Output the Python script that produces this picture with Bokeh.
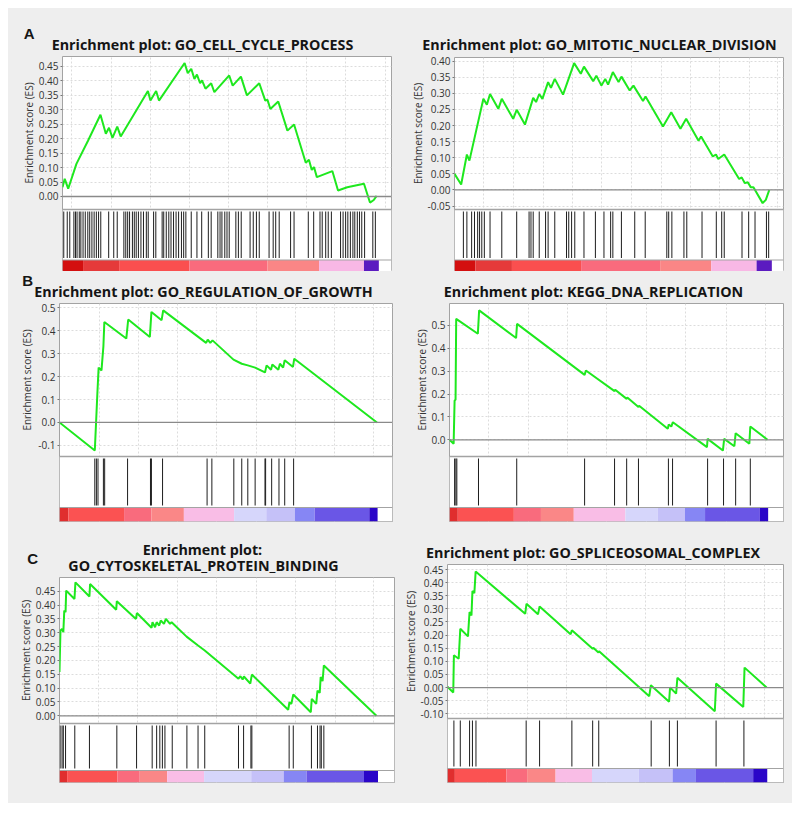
import math
from bokeh.plotting import figure
from bokeh.layouts import column, row
from bokeh.models import Range1d, FixedTicker, Grid, Span, PrintfTickFormatter, Spacer
from bokeh.core.properties import value
from bokeh.embed import file_html
from bokeh.resources import INLINE

# ======================= DATA (x = fraction of the ranked gene list) =======================
# --- A left: GO_CELL_CYCLE_PROCESS
cc_title = ["Enrichment plot: GO_CELL_CYCLE_PROCESS"]
cc_es_x = [0.000, 0.007, 0.018, 0.044, 0.081, 0.120, 0.137, 0.147, 0.158, 0.173, 0.184, 0.270, 0.278, 0.296,
           0.305, 0.386, 0.396, 0.407, 0.417, 0.425, 0.435, 0.441, 0.452, 0.470, 0.480, 0.527, 0.538, 0.564,
           0.583, 0.622, 0.641, 0.648, 0.657, 0.682, 0.711, 0.732, 0.769, 0.779, 0.788, 0.795, 0.804, 0.853,
           0.871, 0.900, 0.953, 0.972, 0.984, 0.993]
cc_es_y = [0.032, 0.061, 0.027, 0.113, 0.194, 0.283, 0.217, 0.238, 0.203, 0.242, 0.208, 0.365, 0.332, 0.365,
           0.332, 0.462, 0.427, 0.442, 0.407, 0.422, 0.392, 0.402, 0.373, 0.392, 0.361, 0.419, 0.384, 0.415,
           0.350, 0.392, 0.332, 0.335, 0.303, 0.329, 0.228, 0.249, 0.117, 0.127, 0.092, 0.102, 0.067, 0.088,
           0.021, 0.032, 0.044, -0.021, -0.012, 0.002]
cc_hits = [0.004, 0.015, 0.023, 0.036, 0.041, 0.046, 0.053, 0.058, 0.065, 0.072, 0.080, 0.086, 0.093, 0.100,
           0.107, 0.114, 0.121, 0.146, 0.162, 0.173, 0.194, 0.200, 0.206, 0.212, 0.221, 0.227, 0.233, 0.240,
           0.248, 0.256, 0.265, 0.271, 0.288, 0.295, 0.315, 0.320, 0.328, 0.336, 0.343, 0.351, 0.359, 0.367,
           0.376, 0.383, 0.390, 0.407, 0.425, 0.440, 0.461, 0.470, 0.491, 0.498, 0.504, 0.513, 0.520, 0.527,
           0.548, 0.556, 0.565, 0.593, 0.603, 0.613, 0.622, 0.653, 0.666, 0.674, 0.685, 0.721, 0.732, 0.777,
           0.794, 0.814, 0.821, 0.832, 0.840, 0.850, 0.879, 0.887, 0.895, 0.902, 0.910, 0.918, 0.924, 0.932,
           0.939, 0.946, 0.955, 0.981, 0.989]
cc_yticks = [0.00, 0.05, 0.10, 0.15, 0.20, 0.25, 0.30, 0.35, 0.40, 0.45]
cc_bar_edges = [0.0, 0.065, 0.179, 0.401, 0.648, 0.811, 0.953, 1.0]

# --- A right: GO_MITOTIC_NUCLEAR_DIVISION
mnd_title = ["Enrichment plot: GO_MITOTIC_NUCLEAR_DIVISION"]
mnd_es_x = [0.000, 0.021, 0.039, 0.047, 0.091, 0.102, 0.112, 0.138, 0.149, 0.185, 0.196, 0.222, 0.248, 0.257,
            0.267, 0.277, 0.295, 0.304, 0.316, 0.342, 0.377, 0.398, 0.408, 0.437, 0.447, 0.463, 0.475, 0.484,
            0.499, 0.517, 0.526, 0.552, 0.564, 0.594, 0.602, 0.657, 0.683, 0.712, 0.730, 0.769, 0.777, 0.814,
            0.824, 0.831, 0.850, 0.897, 0.905, 0.915, 0.924, 0.934, 0.942, 0.971, 0.981, 0.992]
mnd_es_y = [0.050, 0.017, 0.110, 0.091, 0.283, 0.265, 0.298, 0.252, 0.283, 0.221, 0.249, 0.203, 0.286, 0.273,
            0.298, 0.283, 0.335, 0.317, 0.345, 0.296, 0.394, 0.361, 0.383, 0.338, 0.355, 0.324, 0.345, 0.327,
            0.366, 0.335, 0.352, 0.309, 0.324, 0.276, 0.290, 0.197, 0.241, 0.190, 0.221, 0.153, 0.166, 0.104,
            0.110, 0.096, 0.110, 0.034, 0.039, 0.021, 0.024, 0.008, 0.008, -0.041, -0.031, 0.000]
mnd_hits = [0.028, 0.039, 0.054, 0.063, 0.073, 0.079, 0.086, 0.094, 0.112, 0.149, 0.196, 0.235, 0.241, 0.248,
            0.267, 0.287, 0.295, 0.316, 0.353, 0.360, 0.369, 0.379, 0.408, 0.444, 0.471, 0.492, 0.499, 0.526,
            0.568, 0.601, 0.669, 0.675, 0.685, 0.723, 0.732, 0.780, 0.825, 0.842, 0.850, 0.906, 0.927, 0.947,
            0.983, 0.990]
mnd_yticks = [-0.05, 0.00, 0.05, 0.10, 0.15, 0.20, 0.25, 0.30, 0.35, 0.40]
mnd_bar_edges = [0.0, 0.066, 0.181, 0.399, 0.648, 0.809, 0.952, 1.0]

# --- B left: GO_REGULATION_OF_GROWTH
rog_title = ["Enrichment plot: GO_REGULATION_OF_GROWTH"]
rog_es_x = [0.000, 0.111, 0.115, 0.119, 0.123, 0.132, 0.138, 0.141, 0.210, 0.216, 0.284, 0.289, 0.321, 0.326,
            0.461, 0.466, 0.474, 0.481, 0.547, 0.573, 0.592, 0.615, 0.646, 0.651, 0.665, 0.669, 0.688, 0.693,
            0.703, 0.708, 0.734, 0.738, 0.998]
rog_es_y = [0.000, -0.122, 0.001, 0.125, 0.239, 0.227, 0.332, 0.438, 0.366, 0.449, 0.373, 0.482, 0.446, 0.489,
            0.347, 0.361, 0.347, 0.358, 0.274, 0.256, 0.249, 0.239, 0.218, 0.249, 0.230, 0.253, 0.230, 0.256,
            0.239, 0.271, 0.242, 0.278, 0.000]
rog_hits = [0.111, 0.116, 0.121, 0.138, 0.142, 0.214, 0.286, 0.289, 0.324, 0.464, 0.479, 0.548, 0.573, 0.592,
            0.615, 0.646, 0.648, 0.667, 0.690, 0.708, 0.736]
rog_yticks = [-0.1, 0.0, 0.1, 0.2, 0.3, 0.4, 0.5]
rog_bar_edges = [0.0, 0.028, 0.203, 0.289, 0.391, 0.549, 0.650, 0.740, 0.802, 0.974, 1.0]

# --- B right: KEGG_DNA_REPLICATION
dna_title = ["Enrichment plot: KEGG_DNA_REPLICATION"]
dna_es_x = [0.000, 0.013, 0.016, 0.019, 0.021, 0.089, 0.093, 0.209, 0.212, 0.424, 0.428, 0.518, 0.520, 0.556,
            0.558, 0.593, 0.595, 0.685, 0.688, 0.696, 0.701, 0.808, 0.810, 0.858, 0.862, 0.894, 0.898, 0.941,
            0.944, 0.998]
dna_es_y = [0.000, -0.017, 0.172, 0.175, 0.529, 0.464, 0.566, 0.445, 0.507, 0.284, 0.303, 0.213, 0.219, 0.179,
            0.185, 0.143, 0.149, 0.048, 0.067, 0.058, 0.077, -0.032, 0.004, -0.047, 0.004, -0.028, 0.029, -0.017,
            0.058, 0.000]
dna_hits = [0.016, 0.020, 0.023, 0.091, 0.211, 0.424, 0.518, 0.556, 0.593, 0.687, 0.700, 0.810, 0.860, 0.898,
            0.944]
dna_yticks = [0.0, 0.1, 0.2, 0.3, 0.4, 0.5]
dna_bar_edges = [0.0, 0.026, 0.202, 0.287, 0.390, 0.552, 0.654, 0.739, 0.802, 0.974, 1.0]

# --- C left: GO_CYTOSKELETAL_PROTEIN_BINDING
cpb_title = ["Enrichment plot:", "GO_CYTOSKELETAL_PROTEIN_BINDING"]
cpb_es_x = [0.000, 0.003, 0.008, 0.012, 0.015, 0.019, 0.021, 0.047, 0.050, 0.094, 0.096, 0.178, 0.180, 0.240,
            0.243, 0.289, 0.292, 0.300, 0.305, 0.313, 0.318, 0.328, 0.334, 0.347, 0.352, 0.399, 0.435, 0.456,
            0.562, 0.568, 0.575, 0.579, 0.599, 0.604, 0.718, 0.722, 0.728, 0.734, 0.789, 0.792, 0.806, 0.810,
            0.817, 0.820, 0.826, 0.830, 0.995]
cpb_es_y = [0.158, 0.308, 0.314, 0.302, 0.380, 0.374, 0.452, 0.422, 0.482, 0.431, 0.476, 0.383, 0.414, 0.350,
            0.371, 0.318, 0.338, 0.320, 0.338, 0.326, 0.344, 0.332, 0.350, 0.332, 0.338, 0.286, 0.254, 0.236,
            0.134, 0.143, 0.131, 0.142, 0.116, 0.149, 0.022, 0.049, 0.043, 0.077, 0.013, 0.061, 0.043, 0.091,
            0.083, 0.140, 0.125, 0.182, 0.000]
cpb_hits = [0.002, 0.008, 0.012, 0.019, 0.048, 0.094, 0.180, 0.242, 0.291, 0.305, 0.315, 0.323, 0.331, 0.354,
            0.400, 0.435, 0.456, 0.562, 0.578, 0.601, 0.604, 0.721, 0.734, 0.791, 0.810, 0.818, 0.822, 0.830]
cpb_yticks = [0.00, 0.05, 0.10, 0.15, 0.20, 0.25, 0.30, 0.35, 0.40, 0.45]
cpb_bar_edges = [0.0, 0.024, 0.182, 0.252, 0.338, 0.454, 0.602, 0.704, 0.776, 0.956, 1.0]

# --- C right: GO_SPLICEOSOMAL_COMPLEX
spl_title = ["Enrichment plot: GO_SPLICEOSOMAL_COMPLEX"]
spl_es_x = [0.000, 0.018, 0.020, 0.035, 0.040, 0.064, 0.069, 0.075, 0.078, 0.084, 0.088, 0.243, 0.247, 0.283,
            0.288, 0.385, 0.389, 0.454, 0.456, 0.472, 0.474, 0.631, 0.636, 0.693, 0.696, 0.715, 0.719, 0.836,
            0.840, 0.925, 0.929, 0.998]
spl_es_y = [0.003, -0.019, 0.123, 0.110, 0.224, 0.195, 0.288, 0.275, 0.368, 0.360, 0.442, 0.281, 0.319, 0.279,
            0.309, 0.203, 0.218, 0.148, 0.152, 0.134, 0.138, -0.033, 0.009, -0.054, 0.000, -0.023, 0.037, -0.090,
            0.015, -0.074, 0.076, 0.000]
spl_hits = [0.020, 0.040, 0.069, 0.078, 0.089, 0.246, 0.288, 0.389, 0.454, 0.473, 0.637, 0.694, 0.719, 0.840,
            0.927]
spl_yticks = [-0.10, -0.05, 0.00, 0.05, 0.10, 0.15, 0.20, 0.25, 0.30, 0.35, 0.40, 0.45]
spl_bar_edges = [0.0, 0.023, 0.184, 0.249, 0.338, 0.452, 0.598, 0.704, 0.777, 0.956, 1.0]

# ranked-list colour blocks
bar_colors_a = ["#d30f0f", "#e53a3a", "#fa4f4f", "#f96b7d", "#fa8686", "#f8b8e5", "#5b1bc0"]
bar_colors_bc = ["#e02e2e", "#fb5252", "#f96b7d", "#fa8787", "#f9bde6", "#d6d6fb", "#c5c1f8",
                 "#8686f4", "#6a56e6", "#2a05c8"]

panel_letters = ["A", "B", "C"]
axis_title = "Enrichment score (ES)"

# ======================= LAYOUT / STYLE (page pixels) =======================
BG = "#eeeeee"
FRAME = "#a3a3a3"
GREEN = "#1ee81e"
FONT = "Open Sans"
LET = "Liberation Sans"
LET_SIZE = "15px"
W = 392
TITLE_SIZE = "14.3px"
DY = 5.5   # renderer places alphabetic baseline this much lower than the given y

panels = {
    "AL": dict(x0=8, top=54, L=61, R=391, T=56, EB=209, HB=259.5, B=271, bottom=271, span=317.3,
               es=(-0.045, 0.4846), fmt="%.2f", lw=27, ax=28.0,
               xgrid=[0.030, 0.154, 0.277, 0.401, 0.525, 0.648, 0.771, 0.895, 1.021],
               d=(cc_es_x, cc_es_y, cc_hits, cc_yticks, cc_bar_edges, bar_colors_a)),
    "AR": dict(x0=400, top=54, L=453, R=783, T=57, EB=209, HB=259.5, B=271, bottom=271, span=318.3,
               es=(-0.0608, 0.4114), fmt="%.2f", lw=24, ax=417.0,
               xgrid=[0.091, 0.185, 0.280, 0.372, 0.463, 0.557, 0.651, 0.743, 0.835, 0.929, 1.018],
               d=(mnd_es_x, mnd_es_y, mnd_hits, mnd_yticks, mnd_bar_edges, bar_colors_a)),
    "BL": dict(x0=8, top=301, L=57, R=392, T=303, EB=456, HB=507, B=521, bottom=530, span=320.0,
               es=(-0.1485, 0.5188), fmt="%.1f", lw=27, ax=26.7,
               xgrid=[0.125, 0.248, 0.372, 0.495, 0.618, 0.742, 0.865, 0.988],
               d=(rog_es_x, rog_es_y, rog_hits, rog_yticks, rog_bar_edges, bar_colors_bc)),
    "BR": dict(x0=400, top=301, L=448, R=783, T=303, EB=456, HB=507, B=521, bottom=530, span=319.6,
               es=(-0.073, 0.5962), fmt="%.1f", lw=28, ax=421.0,
               xgrid=[0.122, 0.247, 0.370, 0.494, 0.617, 0.742, 0.868, 0.991],
               d=(dna_es_x, dna_es_y, dna_hits, dna_yticks, dna_bar_edges, bar_colors_bc)),
    "CL": dict(x0=8, top=576, L=57, R=394, T=577, EB=723, HB=770, B=782, bottom=803, span=320.4,
               es=(-0.0278, 0.4995), fmt="%.2f", lw=24, ax=25.0,
               xgrid=[0.123, 0.246, 0.370, 0.492, 0.617, 0.742, 0.865, 0.986],
               d=(cpb_es_x, cpb_es_y, cpb_hits, cpb_yticks, cpb_bar_edges, bar_colors_bc)),
    "CR": dict(x0=400, top=562, L=446, R=783, T=564, EB=718, HB=768, B=782, bottom=803, span=320.7,
               es=(-0.1179, 0.469), fmt="%.2f", lw=17, ax=410.0,
               xgrid=[0.125, 0.249, 0.373, 0.496, 0.619, 0.743, 0.865, 0.990],
               d=(spl_es_x, spl_es_y, spl_hits, spl_yticks, spl_bar_edges, bar_colors_bc)),
}

bg = {"background-color": BG}


def head(fx0, fx1, top, bottom, width, texts):
    """Text strip whose frame is the whole strip; x/y ranges are page pixels."""
    h = figure(width=width, height=bottom - top, x_range=Range1d(fx0, fx1),
               y_range=Range1d(bottom, top), x_axis_type=None, y_axis_type=None,
               toolbar_location=None, output_backend="svg", min_border=0)
    h.outline_line_color = None
    h.background_fill_color = BG
    h.border_fill_color = BG
    for t, tx, ty, font, size, align in texts:
        h.text(x=[tx], y=[ty - DY], text=[t], text_font=value(font), text_font_style="bold",
               text_font_size=size, text_align=align, text_baseline="alphabetic", text_color="#151515")
    return h


def cell(key):
    g = panels[key]
    xs, ys, hits, yticks, edges, colors = g["d"]
    x0, top, bottom, lw = g["x0"], g["top"], g["bottom"], g["lw"]
    L, R, T, EB, HB, B = g["L"], g["R"], g["T"], g["EB"], g["HB"], g["B"]
    mbt, mbb = T - top, bottom - B
    ymin, ymax = g["es"]
    ppu = (EB - T) / (ymax - ymin)

    # narrow strip holding the y-axis title (centred on the ES panel)
    lab = figure(width=lw, height=bottom - top, x_range=Range1d(x0, x0 + lw), y_range=Range1d(B, T),
                 x_axis_type=None, y_axis_type=None, toolbar_location=None, output_backend="svg",
                 min_border_left=0, min_border_right=0, min_border_top=mbt, min_border_bottom=mbb)
    lab.outline_line_color = None
    lab.background_fill_color = BG
    lab.border_fill_color = BG
    lab.text(x=[g["ax"]], y=[(T + EB) / 2], text=[axis_title], angle=math.pi / 2,
             text_align="center", text_baseline="middle", text_font=value(FONT),
             text_font_size="10px", text_color="#333333")

    # ES panel + hit marks + ranked-list bar in one frame
    xr = Range1d(0, (R - L) / g["span"])
    yr = Range1d(ymin - (B - EB) / ppu, ymax)
    p = figure(width=W - lw, height=bottom - top, x_range=xr, y_range=yr,
               x_axis_type=None, toolbar_location=None, output_backend="svg",
               min_border_left=L - (x0 + lw), min_border_right=x0 + W - R,
               min_border_top=mbt, min_border_bottom=mbb)
    p.extra_y_ranges = {"px": Range1d(0, B - T)}
    p.background_fill_color = "white"
    p.border_fill_color = BG
    p.outline_line_color = FRAME
    ax = p.yaxis[0]
    ax.ticker = FixedTicker(ticks=yticks)
    ax.formatter = PrintfTickFormatter(format=g["fmt"])
    ax.axis_line_color = None
    ax.major_tick_out = 2
    ax.major_tick_in = 0
    ax.major_tick_line_color = "#777777"
    ax.minor_tick_line_color = None
    ax.major_label_standoff = 2
    ax.major_label_text_font = FONT
    ax.major_label_text_font_size = "10px"
    ax.major_label_text_color = "#333333"
    p.ygrid.grid_line_color = "#dcdcdc"
    p.ygrid.grid_line_dash = "2 2"
    p.add_layout(Grid(dimension=0, ticker=FixedTicker(ticks=g["xgrid"]), grid_line_color="#dcdcdc",
                      grid_line_dash="2 2"))
    # white ground of the lower (hits + bar) section hides the vertical grid there
    p.quad(left=[xr.start], right=[xr.end], bottom=[0], top=[B - EB], y_range_name="px",
           fill_color="white", line_color=None)
    p.quad(left=edges[:-1], right=edges[1:], bottom=0, top=B - HB, y_range_name="px",
           fill_color=colors, line_color=None)
    p.segment(x0=hits, y0=B - HB + 2, x1=hits, y1=B - EB - 2, y_range_name="px",
              line_color="#1e1e1e", line_width=1)
    p.add_layout(Span(location=0, dimension="width", line_color="#8a8a8a", line_width=1.3))
    p.add_layout(Span(location=B - EB, dimension="width", y_range_name="px", line_color=FRAME,
                      line_width=1.5))
    p.add_layout(Span(location=B - HB, dimension="width", y_range_name="px", line_color=FRAME,
                      line_width=1))
    p.line(xs, ys, line_color=GREEN, line_width=2)
    return row(lab, p, styles=bg)


hA = head(8, 792, 8, 54, 784, [
    (panel_letters[0], 23.3, 38.3, LET, LET_SIZE, "left"),
    (cc_title[0], 202, 49.3, FONT, TITLE_SIZE, "center"),
    (mnd_title[0], 599, 49.3, FONT, TITLE_SIZE, "center"),
])
hB = head(8, 792, 271, 301, 784, [
    (panel_letters[1], 21.7, 285.0, LET, LET_SIZE, "left"),
    (rog_title[0], 203, 296.7, FONT, TITLE_SIZE, "center"),
    (dna_title[0], 593, 296.7, FONT, TITLE_SIZE, "center"),
])
hCL = head(8, 400, 530, 576, W, [
    (panel_letters[2], 26.7, 563.3, LET, LET_SIZE, "left"),
    (cpb_title[0], 202, 554.0, FONT, TITLE_SIZE, "center"),
    (cpb_title[1], 203, 570.0, FONT, TITLE_SIZE, "center"),
])
hCR = head(400, 792, 530, 562, W, [
    (spl_title[0], 592.5, 557.8, FONT, TITLE_SIZE, "center"),
])

main = column(
    hA, row(cell("AL"), cell("AR"), styles=bg),
    hB, row(cell("BL"), cell("BR"), styles=bg),
    row(column(hCL, cell("CL"), styles=bg), column(hCR, cell("CR"), styles=bg), styles=bg),
    styles=bg,
)
root = column(Spacer(width=792, height=8), row(Spacer(width=8, height=795), main))

open("out.html", "w").write(file_html(root, INLINE))
